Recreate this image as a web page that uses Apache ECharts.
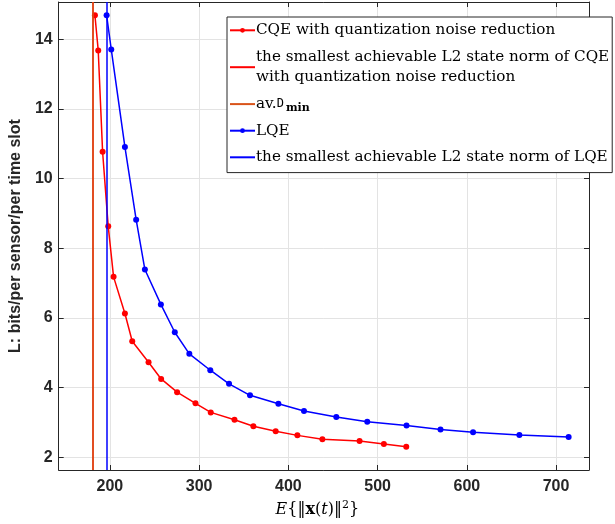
<!DOCTYPE html>
<html>
<head>
<meta charset="utf-8">
<script src="https://cdn.jsdelivr.net/npm/echarts@6/dist/echarts.min.js"></script>
<style>
  html, body { margin: 0; padding: 0; background: #fff; }
  #main { width: 615px; height: 524px; }
</style>
</head>
<body>
<div id="main"></div>
<script>
// CQE with quantization noise reduction
var cqeX = [183.2, 186.9, 191.8, 198.1, 204.1, 216.8, 225.0, 243.3, 257.4, 275.3, 295.9, 313.0, 339.6, 360.8, 385.8, 410.1, 438.1, 479.8, 507.0, 532.1];
var cqeY = [14.69, 13.68, 10.77, 8.63, 7.18, 6.13, 5.33, 4.73, 4.25, 3.87, 3.55, 3.29, 3.08, 2.89, 2.75, 2.63, 2.52, 2.47, 2.38, 2.30];
// LQE
var lqeX = [196.3, 201.5, 216.8, 229.4, 239.2, 257.1, 272.7, 289.0, 312.5, 333.5, 357.0, 388.8, 417.5, 453.7, 488.4, 532.4, 570.5, 607.0, 658.9, 714.1];
var lqeY = [14.69, 13.71, 10.91, 8.82, 7.39, 6.39, 5.59, 4.97, 4.50, 4.11, 3.78, 3.54, 3.33, 3.16, 3.02, 2.91, 2.80, 2.72, 2.64, 2.58];
// vertical reference lines
var cqeMinNorm = 181;
var avDmin = 181;
var lqeMinNorm = 196;

var xTicks = [200, 300, 400, 500, 600, 700];
var yTicks = [2, 4, 6, 8, 10, 12, 14];

var names = [
  'CQE with quantization noise reduction',
  'the smallest achievable L2 state norm of CQE\nwith quantization noise reduction',
  'av.Dmin',
  'LQE',
  'the smallest achievable L2 state norm of LQE'
];

var RED = '#FF0000', BLUE = '#0000FF', ORANGE = '#D95319';
var AX = '#262626';

function zip(a, b) {
  return a.map(function (v, i) { return [v, b[i]]; });
}

function curve(name, xs, ys, color) {
  return {
    name: name,
    type: 'line',
    data: zip(xs, ys),
    symbol: 'circle',
    symbolSize: 6,
    lineStyle: { color: color, width: 1.5 },
    itemStyle: { color: color },
    animation: false
  };
}

function vline(name, x, color) {
  return {
    name: name,
    type: 'line',
    data: [],
    symbol: 'none',
    lineStyle: { color: color, width: 1.5 },
    itemStyle: { color: color },
    markLine: {
      silent: true,
      symbol: ['none', 'none'],
      label: { show: false },
      lineStyle: { color: color, width: 1.5, type: 'solid' },
      data: [{ xAxis: x }]
    },
    animation: false
  };
}

var chart = echarts.init(document.getElementById('main'), null, { renderer: 'canvas' });

var tickLabel = { color: AX, fontFamily: 'Liberation Sans, Arial, sans-serif', fontWeight: 'bold', fontSize: 16 };
var LH = 20.6;

var option = {
  backgroundColor: '#fff',
  animation: false,
  grid: { left: 58, right: 26, top: 2, bottom: 54, containLabel: false },
  legend: {
    orient: 'vertical',
    left: 227,
    top: 17,
    data: names.map(function (n, i) {
      // reference lines show a plain line sample, no marker
      return (i === 0 || i === 3) ? { name: n } : { name: n, itemStyle: { opacity: 0 } };
    }),
    selectedMode: false,
    backgroundColor: '#fff',
    borderColor: AX,
    borderWidth: 1,
    borderRadius: 0,
    padding: [3, 3, 5, 2],
    itemGap: 6,
    itemWidth: 25,
    itemHeight: 6,
    formatter: function (name) {
      if (name === 'av.Dmin') return '{r|av.}{m|D}{sub|min}';
      return name;
    },
    textStyle: {
      color: '#000',
      fontFamily: 'DejaVu Serif, serif',
      fontSize: 15.2,
      lineHeight: LH,
      padding: [0, 0, 0, -4],
      rich: {
        r: { fontFamily: 'DejaVu Serif, serif', fontSize: 15.2, lineHeight: LH, color: '#000' },
        m: { fontFamily: 'DejaVu Sans Mono, monospace', fontSize: 12, lineHeight: LH, color: '#000' },
        sub: { fontFamily: 'DejaVu Serif, serif', fontWeight: 'bold', fontSize: 11, lineHeight: LH, padding: [9, 0, 0, 2], color: '#000' }
      }
    }
  },
  xAxis: [{
    type: 'value',
    min: 142.6,
    max: 736.9,
    splitNumber: 6,
    name: '{i|E}{‖{b|x}({i|t})‖{s|2}}',
    nameLocation: 'middle',
    nameGap: 27,
    nameTextStyle: {
      color: '#000',
      fontFamily: 'DejaVu Serif, serif',
      fontSize: 16,
      padding: [0, 13, 0, 0],
      rich: {
        i: { fontFamily: 'DejaVu Serif, serif', fontStyle: 'italic', fontSize: 16, color: '#000' },
        b: { fontFamily: 'DejaVu Serif, serif', fontWeight: 'bold', fontSize: 16, color: '#000' },
        s: { fontFamily: 'DejaVu Serif, serif', fontSize: 11, verticalAlign: 'top', padding: [0, 0, 8, 0], color: '#000' }
      }
    },
    axisLine: { show: true, onZero: false, lineStyle: { color: AX, width: 1 } },
    axisTick: { show: true, inside: true, length: 5, lineStyle: { color: AX } },
    axisLabel: Object.assign({
      margin: 9,
      showMinLabel: false,
      showMaxLabel: false,
      formatter: function (v) { return xTicks.indexOf(v) >= 0 ? String(v) : ''; }
    }, tickLabel),
    splitLine: { show: true, lineStyle: { color: '#E3E3E3', width: 1 } }
  }, {
    type: 'value',
    position: 'top',
    min: 142.6,
    max: 736.9,
    splitNumber: 6,
    axisLine: { show: true, onZero: false, lineStyle: { color: AX, width: 1 } },
    axisTick: { show: true, inside: true, length: 5, lineStyle: { color: AX } },
    axisLabel: { show: false },
    splitLine: { show: false }
  }],
  yAxis: [{
    type: 'value',
    min: 1.636,
    max: 15.07,
    splitNumber: 7,
    name: 'L: bits/per sensor/per time slot',
    nameLocation: 'middle',
    nameRotate: 90,
    nameGap: 26,
    nameTextStyle: { color: AX, fontFamily: 'Liberation Sans, Arial, sans-serif', fontWeight: 'bold', fontSize: 16 },
    axisLine: { show: true, onZero: false, lineStyle: { color: AX, width: 1 } },
    axisTick: { show: true, inside: true, length: 5, lineStyle: { color: AX } },
    axisLabel: Object.assign({
      margin: 6,
      showMinLabel: false,
      showMaxLabel: false,
      formatter: function (v) { return yTicks.indexOf(v) >= 0 ? String(v) : ''; }
    }, tickLabel),
    splitLine: { show: true, lineStyle: { color: '#E3E3E3', width: 1 } }
  }, {
    type: 'value',
    position: 'right',
    min: 1.636,
    max: 15.07,
    splitNumber: 7,
    axisLine: { show: true, onZero: false, lineStyle: { color: AX, width: 1 } },
    axisTick: { show: true, inside: true, length: 5, lineStyle: { color: AX } },
    axisLabel: { show: false },
    splitLine: { show: false }
  }],
  series: [
    curve(names[0], cqeX, cqeY, RED),
    vline(names[1], cqeMinNorm, RED),
    vline(names[2], avDmin, ORANGE),
    curve(names[3], lqeX, lqeY, BLUE),
    vline(names[4], lqeMinNorm, BLUE)
  ]
};

chart.setOption(option);
</script>
</body>
</html>
